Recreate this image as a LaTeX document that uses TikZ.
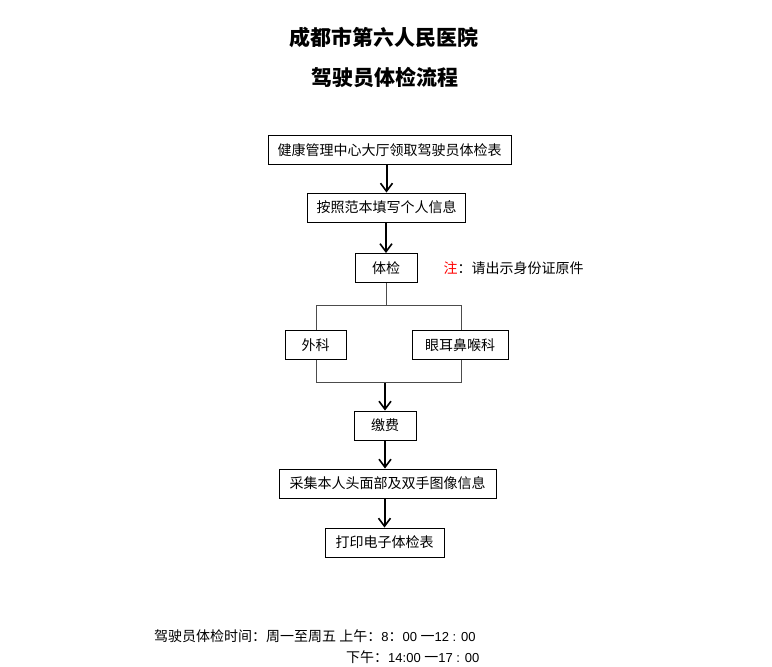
\documentclass[tikz,border=0pt]{standalone}
\usepackage{fontspec}
\newfontfamily\cjk{Noto Sans CJK SC}
\newfontfamily\numf{Liberation Sans}
\usetikzlibrary{arrows.meta}
\tikzset{
  box/.style={draw=black, line width=0.9pt, fill=white, minimum height=29pt, inner xsep=9pt, font=\cjk\fontsize{14pt}{16pt}\selectfont},
  arr/.style={line width=2pt, -{Straight Barb[length=8pt,width=12pt,line width=1.6pt]}},
  thin/.style={draw=black!70, line width=1pt},
  titlef/.style={font=\cjk\bfseries\fontsize{21pt}{24pt}\selectfont},
  txt/.style={font=\cjk\fontsize{14pt}{16pt}\selectfont}
}
\begin{document}
\begin{tikzpicture}[x=1pt,y=-1pt]
\useasboundingbox[fill=white] (0,0) rectangle (772,667);
\node[titlef] (t1) at (384,37) {成都市第六人民医院};
\node[titlef] (t2) at (385,77) {驾驶员体检流程};

\node[box, minimum width=243pt] (b1) at (389.5,150) {健康管理中心大厅领取驾驶员体检表};
\node[box, minimum width=157pt] (b2) at (386.5,207.5) {按照范本填写个人信息};
\node[box, minimum width=62pt] (b3) at (386,268) {体检};
\node[txt, anchor=west] (note) at (440,268) {\textcolor{red}{注}：请出示身份证原件};

\node[box, minimum width=61pt] (b4) at (315.5,345) {外科};
\node[box, minimum width=96pt] (b5) at (460,345) {眼耳鼻喉科};

\node[box, minimum width=62pt] (b6) at (385,425.5) {缴费};
\node[box, minimum width=217pt] (b7) at (387.5,483.5) {采集本人头面部及双手图像信息};
\node[box, minimum width=119pt] (b8) at (384.5,542.5) {打印电子体检表};

\coordinate (s1) at (386,305);
\coordinate (sl) at (316,305);
\coordinate (sr) at (461,305);
\coordinate (jl) at (316,382);
\coordinate (jr) at (461,382);
\coordinate (jm) at (385,383);

\draw[arr] (b2 |- b1.south) -- (b2.north);
\draw[arr] (b3 |- b2.south) -- (b3.north);
\draw[thin] (b3.south) -- (s1);
\draw[thin] (sl) -- (sr);
\draw[thin] (sl) -- (sl |- b4.north);
\draw[thin] (sr) -- (sr |- b5.north);
\draw[thin] (sl |- b4.south) -- (jl) -- (jr) -- (sr |- b5.south);
\draw[arr] (jm) -- (b6.north);
\draw[arr] (b6.south) -- (b6 |- b7.north);
\draw[arr] (b8 |- b7.south) -- (b8.north);

\node[txt, anchor=west, inner sep=0pt] (h1) at (154,636) {驾驶员体检时间：周一至周五 上午：{\numf\fontsize{13pt}{15pt}\selectfont 8}：{\numf\fontsize{13pt}{15pt}\selectfont 00 }一{\numf\fontsize{13pt}{15pt}\selectfont 12 : 00}};
\node[txt, anchor=west, inner sep=0pt] (h2) at (346,657) {下午：{\numf\fontsize{13pt}{15pt}\selectfont 14:00 }一{\numf\fontsize{13pt}{15pt}\selectfont 17 : 00}};
\end{tikzpicture}
\end{document}
